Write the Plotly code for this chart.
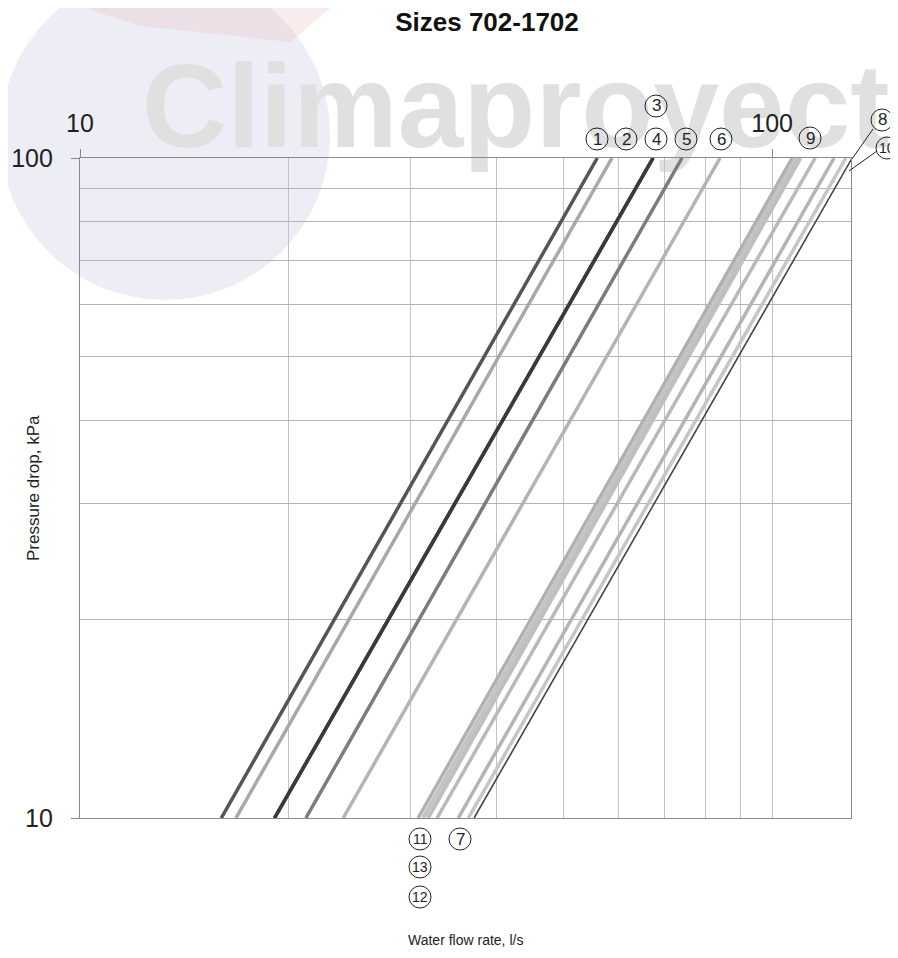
import math
import plotly.graph_objects as go

# ---------------- data ----------------
line_ids = ["1", "2", "3", "4", "5", "6", "7", "8", "9", "10", "11", "12", "13"]
# water flow rate (l/s) at 10 kPa and at 100 kPa pressure drop
flow_at_10kpa = [16.0, 16.8, 19.1, 19.1, 21.2, 24.0, 35.2, 36.4, 32.8, 37.1, 30.8, 31.8, 31.3]
flow_at_100kpa = [55.9, 58.7, 67.3, 67.3, 74.1, 84.1, 122.9, 127.8, 115.4, 130.5, 106.9, 109.8, 108.3]
pressure_ends = [10, 100]

line_colors = ["#555555", "#a8a8a8", "#3a3a3a", "#3a3a3a", "#7c7c7c", "#b4b4b4",
               "#b4b4b4", "#c6c6c6", "#b9b9b9", "#444444", "#b0b0b0", "#bfbfbf", "#c4c4c4"]
line_widths = [3.5, 3.5, 3.5, 3.5, 3.5, 3.5, 3.5, 3.5, 3.5, 1.6, 3.5, 4.5, 4.0]

x_tick_vals = [10, 100]
x_tick_text = ["10", "100"]
x_minor_vals = [20, 30, 40, 50, 60, 70, 80, 90]
y_tick_vals = [10, 100]
y_tick_text = ["10", "100"]
y_minor_vals = [20, 30, 40, 50, 60, 70, 80, 90]
x_max = 130

title_text = "Sizes 702-1702"
x_title = "Water flow rate, l/s"
y_title = "Pressure drop, kPa"

# label placement (screen pixel positions of circled numbers)
labels = [("1", 597, 139), ("2", 626, 139), ("3", 656, 106), ("4", 656, 139),
          ("5", 686, 139), ("6", 721, 139), ("9", 810, 138), ("8", 882, 120),
          ("10", 887, 148), ("11", 420, 839), ("7", 460, 839), ("13", 420, 867),
          ("12", 420, 897)]
leaders = [((873, 129), (852, 159)), ((877, 151), (849, 171))]

# page body has an 8px margin: the figure is drawn from (8, 8)
OFF = 8
W, H = 898 - OFF, 958 - 2 * OFF
PL, PT, PW, PH = 80, 158, 771, 660          # plot area in screen pixels
L, T = PL - OFF, PT - OFF
R, B = W - L - PW, H - T - PH


def px(xs):
    return (xs - PL) / PW


def py(ys):
    return (PT + PH - ys) / PH


FONT = "Liberation Sans, Arial, Helvetica, sans-serif"

fig = go.Figure()
order = [9, 12, 10, 11, 7, 6, 8, 0, 1, 2, 3, 4, 5]
for i in order:
    fig.add_trace(go.Scatter(
        x=[flow_at_10kpa[i], flow_at_100kpa[i]], y=pressure_ends,
        mode="lines", name=line_ids[i],
        line=dict(color=line_colors[i], width=line_widths[i]),
        showlegend=False, hoverinfo="skip"))

shapes = []
# faint background logo (globe + swoosh) and watermark text
shapes.append(dict(type="circle", xref="paper", yref="paper", layer="below",
                   xsizemode="pixel", ysizemode="pixel",
                   xanchor=px(165), yanchor=py(135), x0=-165, x1=165, y0=-165, y1=165,
                   line=dict(width=0), fillcolor="rgba(212,214,232,0.42)"))
shapes.append(dict(type="path", xref="paper", yref="paper", layer="below",
                   path="M {:.4f},{:.4f} L {:.4f},{:.4f} L {:.4f},{:.4f} L {:.4f},{:.4f} Z".format(
                       px(60), py(0), px(340), py(0), px(290), py(42), px(140), py(26)),
                   line=dict(width=0), fillcolor="rgba(235,185,185,0.28)"))
shapes.append(dict(type="rect", xref="paper", yref="paper", layer="below",
                   x0=px(136), x1=px(900), y0=py(165), y1=py(25),
                   line=dict(width=0), fillcolor="rgba(0,0,0,0)",
                   label=dict(text="Climaproyect", textposition="middle left",
                              font=dict(family="Liberation Sans, Arial, sans-serif",
                                        size=118, color="#e0e0e0", weight=700))))

annotations = []
for txt, xx, yy in labels:
    shapes.append(dict(type="circle", xref="paper", yref="paper",
                       xsizemode="pixel", ysizemode="pixel",
                       xanchor=px(xx), yanchor=py(yy), x0=-11, x1=11, y0=-11, y1=11,
                       line=dict(color="#222222", width=1)))
    annotations.append(dict(text=txt, x=px(xx), y=py(yy), xref="paper", yref="paper",
                            showarrow=False, xanchor="center", yanchor="middle",
                            font=dict(family=FONT, size=17 if len(txt) == 1 else 14, color="#222222")))
for (a, b) in leaders:
    shapes.append(dict(type="line", xref="paper", yref="paper",
                       x0=px(a[0]), y0=py(a[1]), x1=px(b[0]), y1=py(b[1]),
                       line=dict(color="#222222", width=1)))

annotations.append(dict(text=y_title, x=px(33), y=py(488), xref="paper", yref="paper",
                        textangle=-90, showarrow=False, xanchor="center", yanchor="middle",
                        font=dict(family=FONT, size=17, color="#222222")))
annotations.append(dict(text=x_title, x=px(465), y=py(940), xref="paper", yref="paper",
                        showarrow=False, xanchor="center", yanchor="middle",
                        font=dict(family=FONT, size=14, color="#222222")))

grid_c = "#c2c2c2"
fig.update_layout(
    width=W, height=H,
    margin=dict(l=L, r=R, t=T, b=B, autoexpand=False),
    paper_bgcolor="white", plot_bgcolor="rgba(0,0,0,0)",
    title=dict(text="<b>" + title_text + "</b>", x=(487 - OFF) / W, xanchor="center",
               y=1 - (22 - OFF) / H, yanchor="middle", yref="container",
               font=dict(family=FONT, size=26, color="#111111")),
    xaxis=dict(type="log", range=[1, math.log10(x_max)], side="top",
               tickvals=x_tick_vals, ticktext=x_tick_text,
               ticks="outside", ticklen=8, tickwidth=1, tickcolor="#888888",
               ticklabelstandoff=7,
               tickfont=dict(family=FONT, size=25, color="#222222"),
               showline=True, linecolor="#8a8a8a", linewidth=1.2, mirror=True,
               showgrid=True, gridcolor=grid_c, gridwidth=1.2, zeroline=False,
               minor=dict(tickvals=x_minor_vals, showgrid=True, gridcolor=grid_c,
                          gridwidth=1.2, ticks="")),
    yaxis=dict(type="log", range=[1, 2],
               tickvals=y_tick_vals, ticktext=y_tick_text,
               ticks="outside", ticklen=8, tickwidth=1, tickcolor="#888888",
               ticklabelstandoff=13,
               tickfont=dict(family=FONT, size=25, color="#222222"),
               showline=True, linecolor="#8a8a8a", linewidth=1.2, mirror=True,
               showgrid=True, gridcolor="#b4b4b4", gridwidth=1.2, zeroline=False,
               minor=dict(tickvals=y_minor_vals, showgrid=True, gridcolor="#b4b4b4",
                          gridwidth=1.2, ticks="")),
    shapes=shapes, annotations=annotations, showlegend=False,
)

fig.write_html("out.html")
